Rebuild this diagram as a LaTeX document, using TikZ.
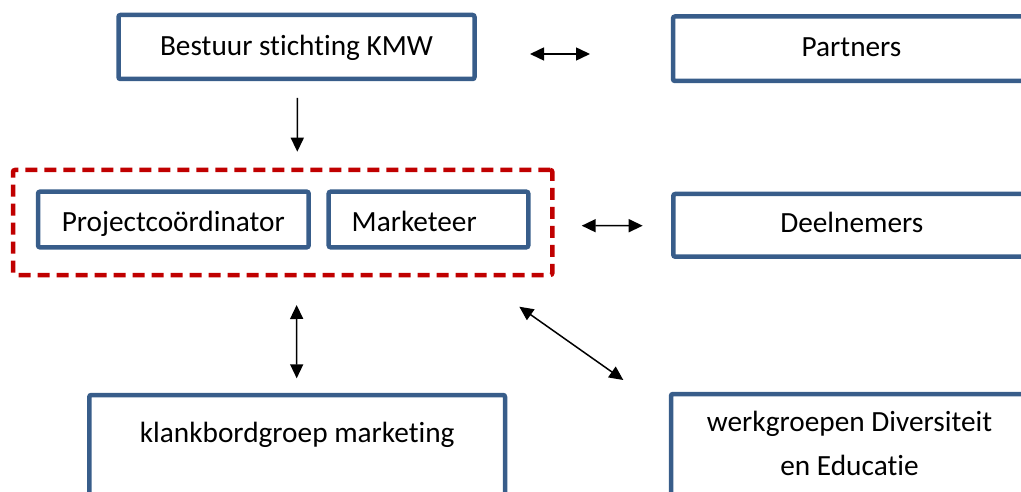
\documentclass[tikz,border=0pt]{standalone}
\usepackage{fontspec}
\setmainfont{Carlito}[RawFeature={-liga}]
\usetikzlibrary{arrows.meta,calc}
\definecolor{boxblue}{RGB}{56,93,138}
\definecolor{teamred}{RGB}{192,0,0}
\tikzset{
  box/.style={draw=boxblue, line width=4.5pt, rounded corners=2pt, outer sep=0pt,
    inner sep=0pt, font=\fontsize{29.3}{43.3}\selectfont, text=black,
    text height=20pt, text depth=5.4pt},
  innerbox/.style={box, text height=25pt, text depth=1pt},
  teambox/.style={draw=teamred, line width=4.5pt, rounded corners=2pt, outer sep=0pt,
    dash pattern=on 12pt off 7pt, inner sep=0pt},
  arr/.style={line width=1.5pt, {Triangle[length=14pt,width=13pt]}-{Triangle[length=14pt,width=13pt]}},
  arrone/.style={line width=1.5pt, -{Triangle[length=14pt,width=13pt]}}
}
\begin{document}
\begin{tikzpicture}[x=1pt,y=-1pt]
\useasboundingbox (0,0) rectangle (1021,492);
\clip (0,0) rectangle (1021,492);
% nodes
\node[box, minimum width=356pt, minimum height=64pt, text height=21.5pt, text depth=4pt] (bestuur) at (296.5,47) {Bestuur stichting KMW};
\node[box, minimum width=357pt, minimum height=64.5pt, text height=20pt, text depth=4pt] (partners) at (851.5,48.75) {Partners};
\node[teambox, minimum width=539.3pt, minimum height=105pt] (team) at (282.65,222.5) {};
\node[innerbox, minimum width=270.7pt, minimum height=55.6pt] (proj) at (173.35,219.5) {Projectcoördinator};
\node[innerbox, minimum width=199.6pt, minimum height=55.6pt, text width=153.6pt, inner xsep=23pt, align=left] (mark) at (428.5,219.5) {Marketeer};
\node[box, minimum width=357pt, minimum height=62.7pt] (deel) at (851.8,225.35) {Deelnemers};
\node[box, anchor=north, minimum width=415.7pt, text height=47pt, text depth=120pt] (klank) at (297.15,395) {klankbordgroep marketing};
\node[box, anchor=north, minimum width=357pt, text height=81pt, text depth=120pt, align=center] (werk) at (849.5,394) {werkgroepen Diversiteit\\en Educatie};
% connectors
\draw[arr] ($(bestuur.east)+(55.5,7)$) -- ($(partners.west)+(-83,5.25)$);
\draw[arrone] ($(bestuur.south)+(0.8,19)$) -- ($(team.north)+(14.65,-18.3)$);
\draw[arr] ($(team.east)+(29.4,3.2)$) -- ($(deel.west)+(-30.6,0.35)$);
\draw[arr] ($(team.south)+(14,30)$) -- ($(klank.north)+(-0.45,-16.7)$);
\draw[arr] ($(team.south east)+(-33,31.7)$) -- ($(werk.north west)+(-47.7,-14)$);
\end{tikzpicture}
\end{document}
